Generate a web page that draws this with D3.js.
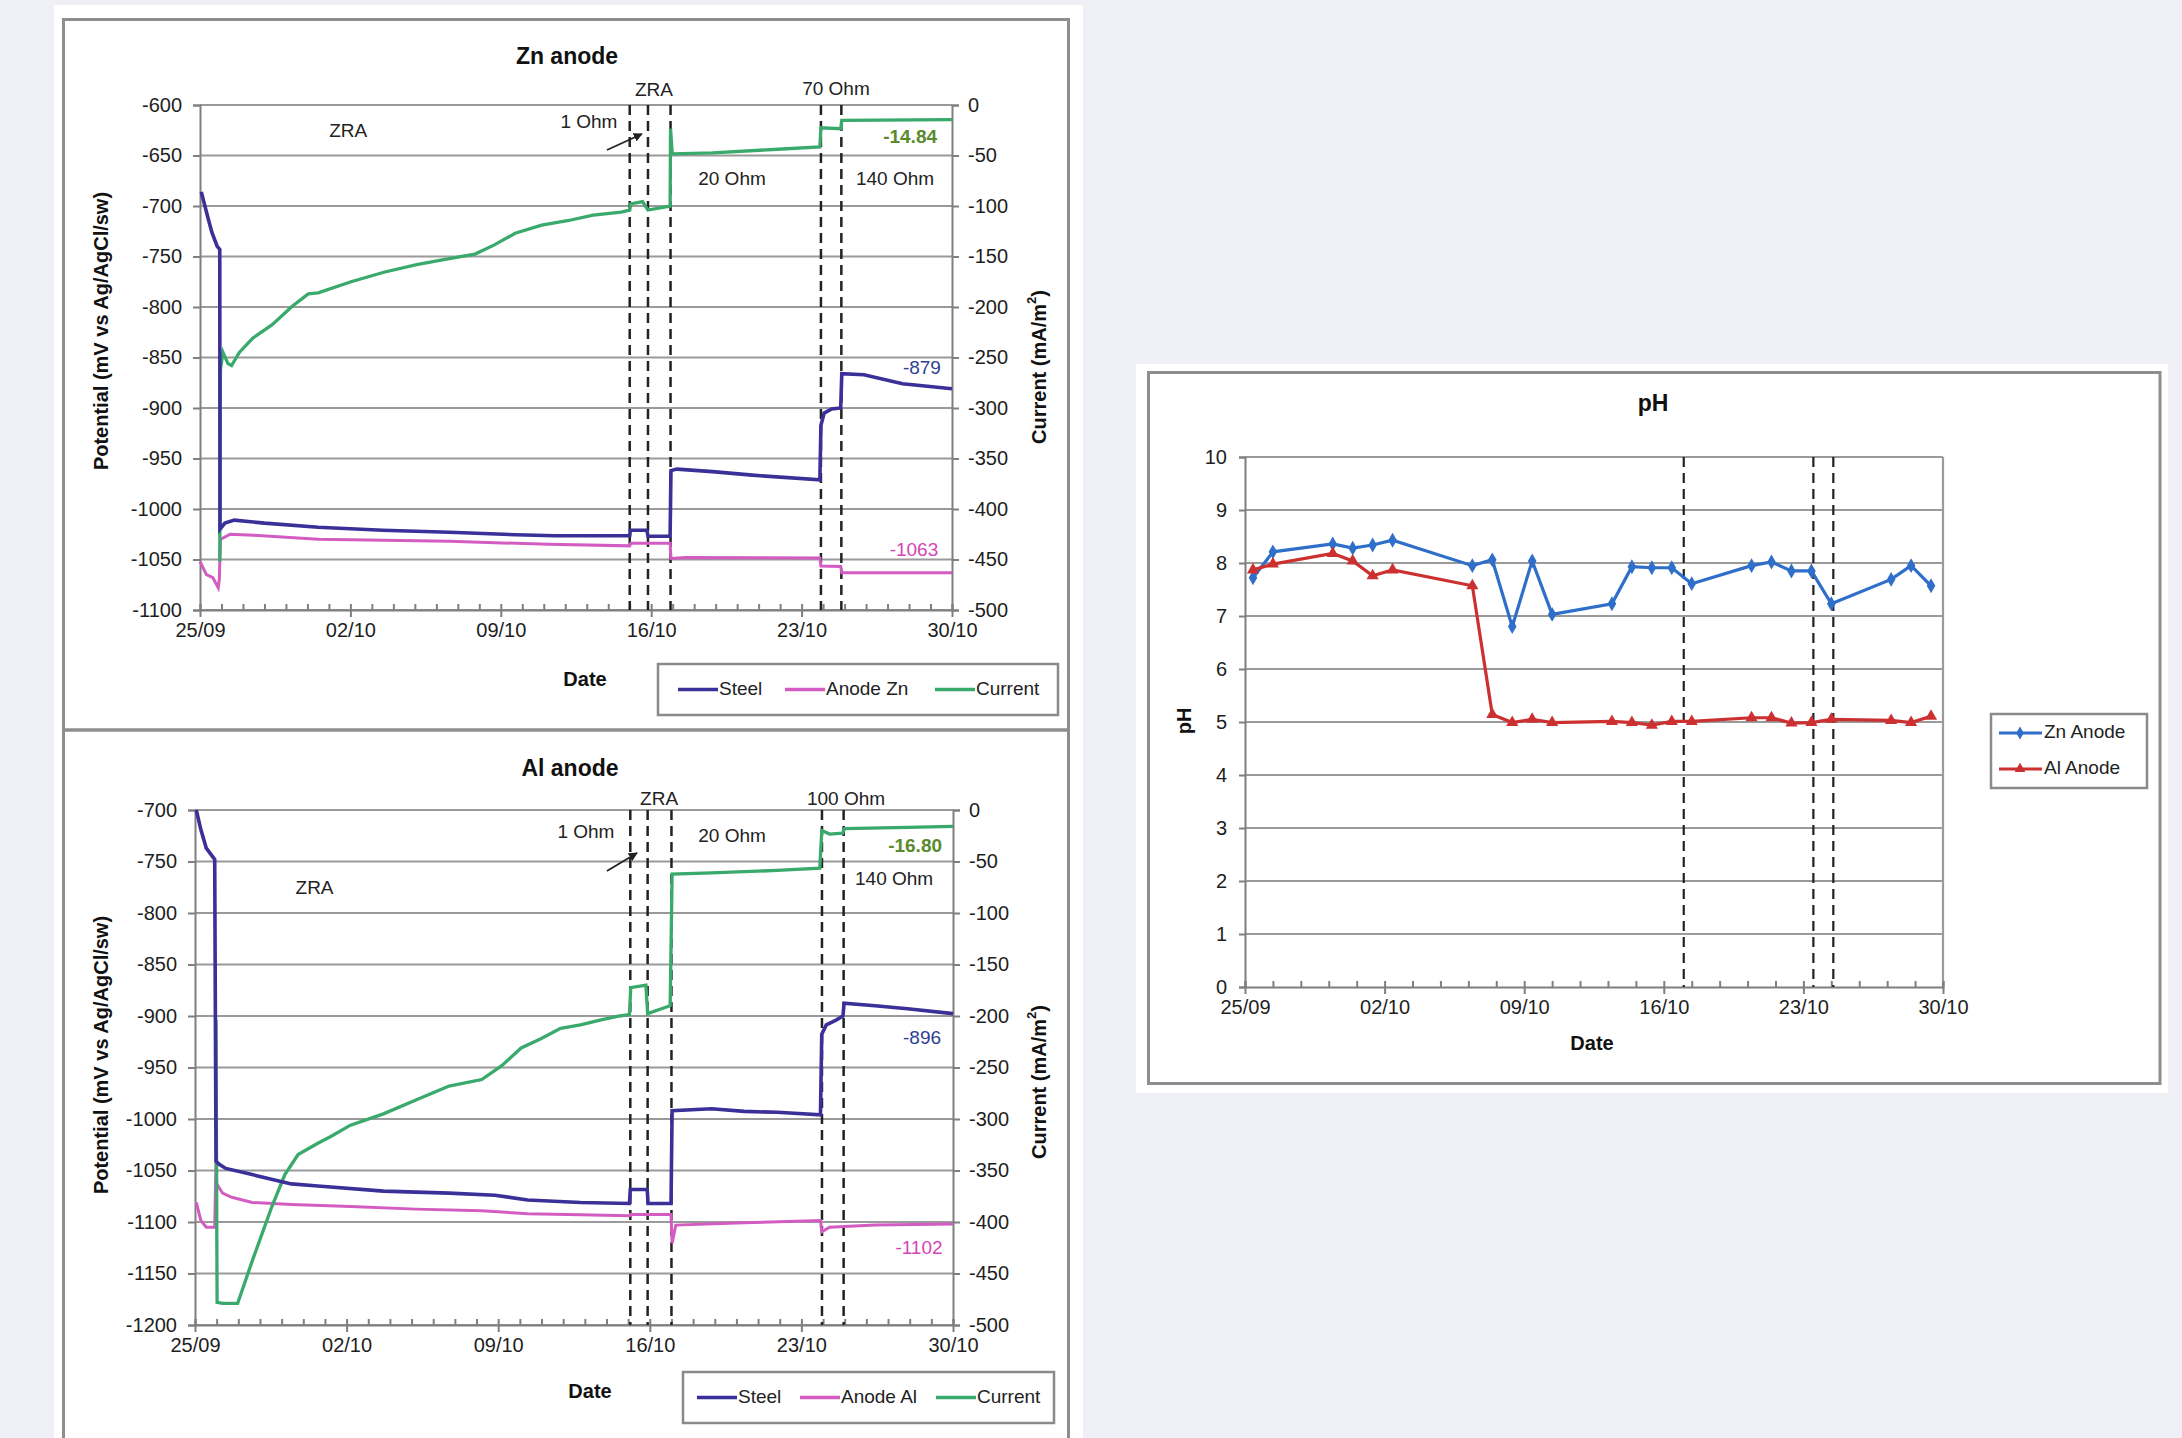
<!DOCTYPE html>
<html>
<head>
<meta charset="utf-8">
<script src="https://cdn.jsdelivr.net/npm/d3@7"></script>
<style>
  html, body { margin: 0; padding: 0; background: #eff0f5; }
  svg { display: block; font-family: "Liberation Sans", Arial, sans-serif; }
</style>
</head>
<body>
<script>
// ---------------- DATA ----------------
// x values are days since 25/09
const xTickDays = [0, 7, 14, 21, 28, 35];
const xTickLabels = ["25/09", "02/10", "09/10", "16/10", "23/10", "30/10"];

const znPotTicks = [-600, -650, -700, -750, -800, -850, -900, -950, -1000, -1050, -1100];
const alPotTicks = [-700, -750, -800, -850, -900, -950, -1000, -1050, -1100, -1150, -1200];
const currentTicks = [0, -50, -100, -150, -200, -250, -300, -350, -400, -450, -500];
const phTicks = [0, 1, 2, 3, 4, 5, 6, 7, 8, 9, 10];

// Zn anode chart
const znSteel = [[0.06,-686],[0.3,-706],[0.55,-726],[0.8,-740],[0.92,-743],[0.93,-1020],[1.16,-1014],[1.6,-1011],[3,-1014],[5.5,-1018],[8.5,-1021],[11.6,-1023],[14.7,-1025.5],[16.5,-1026.5],[20.0,-1026.5],[20.03,-1021],[20.8,-1021],[20.85,-1027],[21.88,-1027],[21.92,-962],[22.2,-960.5],[23.85,-963],[25.7,-966.5],[28.85,-971],[28.9,-917],[29.05,-905],[29.4,-901],[29.82,-900],[29.87,-866],[30.9,-867],[32.7,-876],[35,-881]];
const znAnode = [[0,-1052],[0.3,-1065],[0.6,-1068],[0.85,-1078],[0.9,-1070],[0.95,-1030],[1.4,-1025],[2.5,-1026],[5.5,-1030],[11.6,-1032],[16.2,-1035],[20.0,-1036.5],[20.05,-1034],[21.88,-1034],[21.92,-1049],[22.6,-1048],[28.85,-1048.5],[28.9,-1056.5],[29.82,-1057],[29.87,-1063],[35,-1063]];
const znCurrent = [[0.92,-452],[0.95,-262],[1.07,-245],[1.3,-256],[1.47,-258],[1.83,-245],[2.45,-231],[3.36,-217.5],[4.28,-199.5],[5.04,-187],[5.5,-186],[7.03,-175],[8.56,-165.6],[10.08,-158],[11.6,-152],[12.8,-147.6],[13.7,-138.5],[14.67,-127],[15.9,-119],[17.1,-114.6],[18.3,-109],[19.6,-106],[20.0,-104],[20.05,-98],[20.6,-95.7],[20.85,-104],[21.88,-100],[21.9,-23.5],[21.98,-48.3],[23.85,-47.4],[26.9,-43.8],[28.85,-41.5],[28.9,-22.6],[29.82,-23.5],[29.87,-15.3],[35,-14.4]];
const znSwitchDays = [20.0, 20.85, 21.9, 28.9, 29.85];

// Al anode chart
const alSteel = [[0.06,-700],[0.27,-719],[0.52,-737],[0.91,-748],[0.97,-1041],[1.12,-1044],[1.42,-1048],[2.64,-1054],[4.45,-1063],[5.67,-1065],[8.7,-1070],[11.73,-1072],[13.85,-1074],[15.36,-1078.6],[17.8,-1081],[20.06,-1082],[20.1,-1068.5],[20.88,-1068.5],[20.92,-1082],[21.98,-1082],[22.03,-992],[23.85,-990],[25.36,-992.6],[26.88,-993.5],[28.88,-996],[28.94,-917.6],[29.15,-908.7],[29.6,-904],[29.92,-900],[29.97,-887.6],[31.4,-890],[32.9,-893],[35,-897.7]];
const alAnode = [[0.06,-1081],[0.27,-1098.5],[0.52,-1105],[0.91,-1105],[0.97,-1040],[1.0,-1063],[1.27,-1072],[1.7,-1076],[2.64,-1081],[4.45,-1083],[7.18,-1085],[10.2,-1087.5],[13.24,-1089],[15.36,-1092],[17.8,-1093],[20.06,-1094],[20.1,-1092.8],[21.98,-1092.8],[22.03,-1120.6],[22.2,-1103],[25.36,-1100.7],[28.88,-1098.5],[28.94,-1109.5],[29.3,-1105],[31.4,-1103],[35,-1102]];
const alCurrent = [[0.97,-204],[1.02,-478],[1.27,-479],[1.97,-479],[2.64,-438],[3.55,-385],[4.15,-354],[4.76,-334.5],[5.67,-323.5],[6.27,-317],[7.18,-306],[8.7,-295],[10.2,-281.5],[11.73,-268],[13.24,-261.7],[14.15,-248.5],[15.06,-231],[15.97,-222],[16.88,-212],[17.8,-208.7],[18.7,-204],[19.6,-200],[20.06,-198.6],[20.12,-172.5],[20.82,-170],[20.9,-197.7],[21.94,-190],[22.03,-62.2],[23.85,-61],[26.88,-58.7],[28.85,-56.5],[28.94,-19.9],[29.3,-23.4],[29.9,-22.5],[30.0,-18],[32.9,-16.8],[35,-15.9]];
const alSwitchDays = [20.1, 20.9, 22.0, 28.95, 29.95];

// pH chart
const phDays = [0.4,1.4,4.4,5.4,6.4,7.4,11.4,12.4,13.4,14.4,15.4,18.4,19.4,20.4,21.4,22.4,25.4,26.4,27.4,28.4,29.4,32.4,33.4,34.4];
const phZn = [7.72,8.21,8.36,8.28,8.34,8.43,7.95,8.06,6.8,8.04,7.03,7.23,7.93,7.91,7.91,7.61,7.95,8.02,7.85,7.85,7.23,7.69,7.95,7.57];
const phAl = [7.87,7.98,8.18,8.04,7.76,7.87,7.57,5.14,4.99,5.05,4.99,5.01,4.99,4.94,5.01,5.01,5.08,5.08,4.98,4.99,5.05,5.03,4.99,5.11];
const phSwitchDays = [22.0, 28.5, 29.5];

// ---------------- STYLE ----------------
const C_STEEL = "#3b2f98", C_ANODE = "#d35cc2", C_CURR = "#3aa96c";
const C_GRID = "#9a9a9a", C_AXIS = "#7f7f7f", C_BORDER = "#8e8e8e";
const FONT = 20;
const fmtNum = d => String(d);

const svg = d3.select("body").append("svg").attr("width", 2182).attr("height", 1438);

// Panels
svg.append("rect").attr("x", 54).attr("y", 5).attr("width", 1029).attr("height", 1440).attr("fill", "#fff");
svg.append("rect").attr("x", 63.5).attr("y", 19.5).attr("width", 1005).attr("height", 710.5).attr("fill", "none").attr("stroke", C_BORDER).attr("stroke-width", 3);
svg.append("rect").attr("x", 63.5).attr("y", 730).attr("width", 1005).attr("height", 720).attr("fill", "none").attr("stroke", C_BORDER).attr("stroke-width", 3);
svg.append("rect").attr("x", 1136).attr("y", 364).attr("width", 1032).attr("height", 729).attr("fill", "#fff");
svg.append("rect").attr("x", 1148.5).attr("y", 372.5).attr("width", 1011.5).attr("height", 711).attr("fill", "none").attr("stroke", C_BORDER).attr("stroke-width", 3);

const defs = svg.append("defs");
defs.append("marker").attr("id", "arrow").attr("viewBox", "0 0 10 10").attr("refX", 9).attr("refY", 5)
  .attr("markerWidth", 5).attr("markerHeight", 5).attr("orient", "auto")
  .append("path").attr("d", "M0,0 L10,5 L0,10 z").attr("fill", "#222");

function styleAxis(g) {
  g.selectAll("path.domain").attr("stroke", C_AXIS).attr("stroke-width", 2);
  g.selectAll(".tick line").attr("stroke", C_AXIS).attr("stroke-width", 2);
  g.selectAll(".tick text").attr("fill", "#1e1e1e").attr("font-size", FONT).attr("font-family", "Liberation Sans, Arial, sans-serif");
}

function xAxes(g, x, yBottom, minorStep, maxDay) {
  const minor = d3.range(0, maxDay + 0.001, minorStep);
  const ax1 = g.append("g").attr("transform", `translate(0,${yBottom})`)
    .call(d3.axisBottom(x).tickValues(minor).tickSize(-6).tickFormat(""));
  styleAxis(ax1);
  const ax2 = g.append("g").attr("transform", `translate(0,${yBottom})`)
    .call(d3.axisBottom(x).tickValues(xTickDays).tickSize(7).tickPadding(6)
      .tickFormat((d, i) => xTickLabels[i]));
  styleAxis(ax2);
  ax2.select("path.domain").remove();
}

function potentialChart(cfg) {
  const g = svg.append("g");
  const x = d3.scaleLinear().domain([0, 35]).range([cfg.x0, cfg.x1]);
  const yL = d3.scaleLinear().domain(cfg.leftDomain).range([cfg.yBot, cfg.yTop]);
  const yR = d3.scaleLinear().domain([-500, 0]).range([cfg.yBot, cfg.yTop]);

  // gridlines
  g.append("g").selectAll("line").data(cfg.leftTicks).join("line")
    .attr("x1", cfg.x0).attr("x2", cfg.x1).attr("y1", d => yL(d)).attr("y2", d => yL(d))
    .attr("stroke", C_GRID).attr("stroke-width", 2.2);

  // axes
  const aL = g.append("g").attr("transform", `translate(${cfg.x0},0)`)
    .call(d3.axisLeft(yL).tickValues(cfg.leftTicks).tickSize(7).tickPadding(11).tickFormat(fmtNum));
  styleAxis(aL);
  const aR = g.append("g").attr("transform", `translate(${cfg.x1},0)`)
    .call(d3.axisRight(yR).tickValues(currentTicks).tickSize(7).tickPadding(9).tickFormat(fmtNum));
  styleAxis(aR);
  xAxes(g, x, cfg.yBot, 1, 35);

  // dashed switch lines
  g.append("g").selectAll("line").data(cfg.switchDays).join("line")
    .attr("x1", d => x(d)).attr("x2", d => x(d)).attr("y1", cfg.yTop).attr("y2", cfg.yBot)
    .attr("stroke", "#222").attr("stroke-width", 2.5).attr("stroke-dasharray", "10,6");

  // series
  const lineL = d3.line().x(d => x(d[0])).y(d => yL(d[1]));
  const lineR = d3.line().x(d => x(d[0])).y(d => yR(d[1]));
  g.append("path").datum(cfg.anode).attr("d", lineL).attr("fill", "none").attr("stroke", C_ANODE).attr("stroke-width", 3);
  g.append("path").datum(cfg.current).attr("d", lineR).attr("fill", "none").attr("stroke", C_CURR).attr("stroke-width", 3.3);
  g.append("path").datum(cfg.steel).attr("d", lineL).attr("fill", "none").attr("stroke", C_STEEL).attr("stroke-width", 3.6);

  // annotations
  cfg.notes.forEach(n => {
    g.append("text").attr("x", x(n.d)).attr("y", yL(n.v)).attr("text-anchor", "middle")
      .attr("dominant-baseline", "middle").attr("font-size", n.size || 19)
      .attr("font-weight", n.bold ? "bold" : "normal").attr("fill", n.color || "#222").text(n.t);
  });
  g.append("line").attr("x1", x(cfg.arrow[0])).attr("y1", yL(cfg.arrow[1]))
    .attr("x2", x(cfg.arrow[2])).attr("y2", yL(cfg.arrow[3]))
    .attr("stroke", "#222").attr("stroke-width", 1.8).attr("marker-end", "url(#arrow)");

  // titles
  g.append("text").attr("x", cfg.titleX).attr("y", cfg.titleY).attr("text-anchor", "middle")
    .attr("dominant-baseline", "middle").attr("font-size", 23).attr("font-weight", "bold").attr("fill", "#111").text(cfg.title);
  g.append("text").attr("x", cfg.dateX).attr("y", cfg.dateY).attr("text-anchor", "middle")
    .attr("dominant-baseline", "middle").attr("font-size", 20).attr("font-weight", "bold").attr("fill", "#111").text("Date");
  g.append("text").attr("transform", `translate(${cfg.leftTitleX},${cfg.leftTitleY}) rotate(-90)`)
    .attr("text-anchor", "middle").attr("dominant-baseline", "middle").attr("font-size", 20)
    .attr("font-weight", "bold").attr("fill", "#111").text("Potential (mV vs Ag/AgCl/sw)");
  const rt = g.append("text").attr("transform", `translate(${cfg.rightTitleX},${cfg.rightTitleY}) rotate(-90)`)
    .attr("text-anchor", "middle").attr("dominant-baseline", "middle").attr("font-size", 20)
    .attr("font-weight", "bold").attr("fill", "#111");
  rt.append("tspan").text("Current (mA/m");
  rt.append("tspan").attr("font-size", 13).attr("dy", -8).text("2");
  rt.append("tspan").attr("dy", 8).text(")");

  // legend
  const L = cfg.legend;
  g.append("rect").attr("x", L.x).attr("y", L.y).attr("width", L.w).attr("height", L.h)
    .attr("fill", "#fff").attr("stroke", "#8a8a8a").attr("stroke-width", 2.5);
  L.items.forEach(it => {
    g.append("line").attr("x1", it.lx).attr("x2", it.lx + 40).attr("y1", L.y + L.h / 2).attr("y2", L.y + L.h / 2)
      .attr("stroke", it.c).attr("stroke-width", 3.5);
    g.append("text").attr("x", it.lx + 41).attr("y", L.y + L.h / 2).attr("dominant-baseline", "middle")
      .attr("font-size", 19).attr("fill", "#222").text(it.t);
  });
}

potentialChart({
  x0: 200, x1: 952, yTop: 105, yBot: 610,
  leftDomain: [-1100, -600], leftTicks: znPotTicks,
  steel: znSteel, anode: znAnode, current: znCurrent, switchDays: znSwitchDays,
  title: "Zn anode", titleX: 567, titleY: 58, dateX: 585, dateY: 681,
  leftTitleX: 103, leftTitleY: 331, rightTitleX: 1041, rightTitleY: 367,
  notes: [
    { d: 6.9, v: -627, t: "ZRA" },
    { d: 18.1, v: -618, t: "1 Ohm" },
    { d: 21.13, v: -586, t: "ZRA" },
    { d: 29.6, v: -585, t: "70 Ohm" },
    { d: 24.76, v: -674, t: "20 Ohm" },
    { d: 32.35, v: -674, t: "140 Ohm" },
    { d: 33.05, v: -633, t: "-14.84", color: "#5a8a2c", bold: true },
    { d: 33.6, v: -861.5, t: "-879", color: "#2f3f92" },
    { d: 33.23, v: -1041.5, t: "-1063", color: "#d544b6" }
  ],
  arrow: [18.94, -644.6, 20.57, -628.7],
  legend: { x: 658, y: 664, w: 400, h: 51, items: [
    { lx: 678, t: "Steel", c: C_STEEL },
    { lx: 785, t: "Anode Zn", c: C_ANODE },
    { lx: 935, t: "Current", c: C_CURR }
  ] }
});

potentialChart({
  x0: 195, x1: 953, yTop: 810, yBot: 1325,
  leftDomain: [-1200, -700], leftTicks: alPotTicks,
  steel: alSteel, anode: alAnode, current: alCurrent, switchDays: alSwitchDays,
  title: "Al anode", titleX: 570, titleY: 770, dateX: 590, dateY: 1393,
  leftTitleX: 103, leftTitleY: 1055, rightTitleX: 1041, rightTitleY: 1082,
  notes: [
    { d: 5.52, v: -777, t: "ZRA" },
    { d: 18.05, v: -722, t: "1 Ohm" },
    { d: 21.43, v: -690, t: "ZRA" },
    { d: 30.06, v: -690, t: "100 Ohm" },
    { d: 24.8, v: -726, t: "20 Ohm" },
    { d: 32.28, v: -768, t: "140 Ohm" },
    { d: 33.25, v: -736, t: "-16.80", color: "#5a8a2c", bold: true },
    { d: 33.57, v: -922.3, t: "-896", color: "#2f3f92" },
    { d: 33.43, v: -1126.2, t: "-1102", color: "#d544b6" }
  ],
  arrow: [19.02, -759.2, 20.41, -741.7],
  legend: { x: 683, y: 1372, w: 371, h: 51, items: [
    { lx: 697, t: "Steel", c: C_STEEL },
    { lx: 800, t: "Anode Al", c: C_ANODE },
    { lx: 936, t: "Current", c: C_CURR }
  ] }
});

// ---------------- pH chart ----------------
(function () {
  const g = svg.append("g");
  const x0 = 1245, x1 = 1943, yTop = 457, yBot = 987;
  const x = d3.scaleLinear().domain([0, 35]).range([x0, x1]);
  const y = d3.scaleLinear().domain([0, 10]).range([yBot, yTop]);

  g.append("g").selectAll("line").data(phTicks.filter(d => d > 0)).join("line")
    .attr("x1", x0).attr("x2", x1).attr("y1", d => y(d)).attr("y2", d => y(d))
    .attr("stroke", C_GRID).attr("stroke-width", 2.2);
  g.append("line").attr("x1", x1).attr("x2", x1).attr("y1", yTop).attr("y2", yBot)
    .attr("stroke", C_GRID).attr("stroke-width", 2.2);

  const aL = g.append("g").attr("transform", `translate(${x0},0)`)
    .call(d3.axisLeft(y).tickValues(phTicks).tickSize(6).tickPadding(12).tickFormat(fmtNum));
  styleAxis(aL);
  xAxes(g, x, yBot, 1.4, 35);

  g.append("g").selectAll("line").data(phSwitchDays).join("line")
    .attr("x1", d => x(d)).attr("x2", d => x(d)).attr("y1", yTop).attr("y2", yBot)
    .attr("stroke", "#222").attr("stroke-width", 2.2).attr("stroke-dasharray", "10,6");

  const series = [
    { name: "Zn Anode", vals: phZn, c: "#2f6fca", sym: d3.symbolDiamond },
    { name: "Al Anode", vals: phAl, c: "#cc3030", sym: d3.symbolTriangle }
  ];
  const line = d3.line().x((d, i) => x(phDays[i])).y(d => y(d));
  series.forEach(s => {
    g.append("path").datum(s.vals).attr("d", line).attr("fill", "none").attr("stroke", s.c).attr("stroke-width", 3.2);
    g.append("g").selectAll("path").data(s.vals).join("path")
      .attr("transform", (d, i) => `translate(${x(phDays[i])},${y(d)})`)
      .attr("d", d3.symbol().type(s.sym).size(64)).attr("fill", s.c);
  });

  g.append("text").attr("x", 1653).attr("y", 405).attr("text-anchor", "middle").attr("dominant-baseline", "middle")
    .attr("font-size", 23).attr("font-weight", "bold").attr("fill", "#111").text("pH");
  g.append("text").attr("x", 1592).attr("y", 1045).attr("text-anchor", "middle").attr("dominant-baseline", "middle")
    .attr("font-size", 20).attr("font-weight", "bold").attr("fill", "#111").text("Date");
  g.append("text").attr("transform", "translate(1186,721) rotate(-90)").attr("text-anchor", "middle")
    .attr("dominant-baseline", "middle").attr("font-size", 20).attr("font-weight", "bold").attr("fill", "#111").text("pH");

  // legend
  g.append("rect").attr("x", 1991).attr("y", 714).attr("width", 156).attr("height", 74)
    .attr("fill", "#fff").attr("stroke", "#8a8a8a").attr("stroke-width", 2.5);
  series.forEach((s, i) => {
    const ly = 733 + i * 36;
    g.append("line").attr("x1", 1999).attr("x2", 2042).attr("y1", ly).attr("y2", ly).attr("stroke", s.c).attr("stroke-width", 3);
    g.append("path").attr("transform", `translate(2020,${ly})`).attr("d", d3.symbol().type(s.sym).size(50)).attr("fill", s.c);
    g.append("text").attr("x", 2044).attr("y", ly).attr("dominant-baseline", "middle").attr("font-size", 19)
      .attr("fill", "#222").text(s.name);
  });
})();
</script>
</body>
</html>
